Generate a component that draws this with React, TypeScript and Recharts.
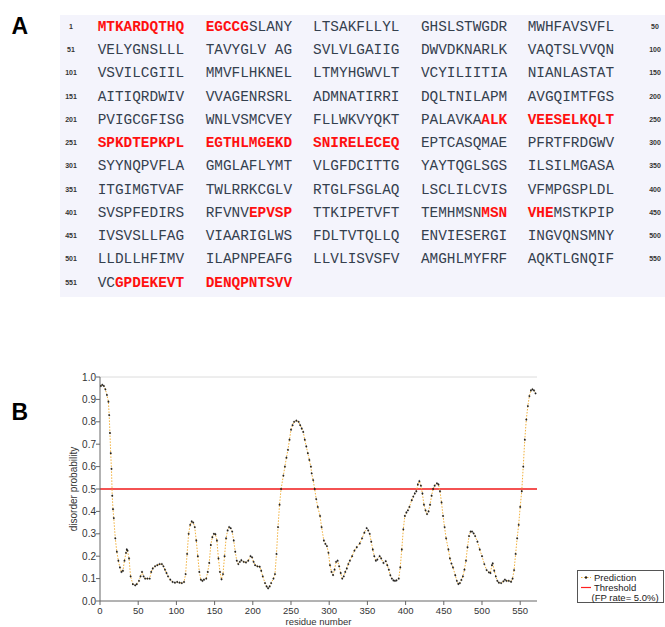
import React from 'react';
import { LineChart, Line, XAxis, YAxis, ReferenceLine, Legend, Label } from 'recharts';

// ---------- Panel A data ----------
const sequenceRows: string[][] = [
  ['MTKARDQTHQ', 'EGCCGSLANY', 'LTSAKFLLYL', 'GHSLSTWGDR', 'MWHFAVSVFL'],
  ['VELYGNSLLL', 'TAVYGLV AG', 'SVLVLGAIIG', 'DWVDKNARLK', 'VAQTSLVVQN'],
  ['VSVILCGIIL', 'MMVFLHKNEL', 'LTMYHGWVLT', 'VCYILIITIA', 'NIANLASTAT'],
  ['AITIQRDWIV', 'VVAGENRSRL', 'ADMNATIRRI', 'DQLTNILAPM', 'AVGQIMTFGS'],
  ['PVIGCGFISG', 'WNLVSMCVEY', 'FLLWKVYQKT', 'PALAVKAALK', 'VEESELKQLT'],
  ['SPKDTEPKPL', 'EGTHLMGEKD', 'SNIRELECEQ', 'EPTCASQMAE', 'PFRTFRDGWV'],
  ['SYYNQPVFLA', 'GMGLAFLYMT', 'VLGFDCITTG', 'YAYTQGLSGS', 'ILSILMGASA'],
  ['ITGIMGTVAF', 'TWLRRKCGLV', 'RTGLFSGLAQ', 'LSCLILCVIS', 'VFMPGSPLDL'],
  ['SVSPFEDIRS', 'RFVNVEPVSP', 'TTKIPETVFT', 'TEMHMSNMSN', 'VHEMSTKPIP'],
  ['IVSVSLLFAG', 'VIAARIGLWS', 'FDLTVTQLLQ', 'ENVIESERGI', 'INGVQNSMNY'],
  ['LLDLLHFIMV', 'ILAPNPEAFG', 'LLVLISVSFV', 'AMGHLMYFRF', 'AQKTLGNQIF'],
  ['VCGPDEKEVT', 'DENQPNTSVV'],
];
const rowStartLabels = [1, 51, 101, 151, 201, 251, 301, 351, 401, 451, 501, 551];
const rowEndLabels = [50, 100, 150, 200, 250, 300, 350, 400, 450, 500, 550];
const disorderedRanges: [number, number][] = [
  [1, 15],
  [238, 280],
  [416, 420],
  [438, 443],
  [553, 570],
];

// ---------- Panel B data ----------
const residues = [
  1, 3, 5, 7, 9, 11, 12, 13, 14, 15, 16, 17, 18, 20, 22, 24, 26, 28, 30, 32, 34, 35, 36, 38, 40, 43, 46, 48,
  51, 53, 55, 57, 59, 62, 65, 67, 69, 72, 75, 78, 81, 83, 85, 87, 89, 92, 95, 98, 101, 104, 107, 110, 112,
  114, 116, 118, 120, 122, 124, 126, 128, 130, 132, 134, 136, 139, 141, 143, 145, 147, 149, 151, 153, 155,
  157, 159, 161, 163, 165, 167, 169, 171, 173, 175, 177, 179, 181, 183, 185, 188, 191, 194, 197, 199, 201,
  203, 206, 209, 211, 213, 216, 218, 220, 222, 224, 227, 229, 231, 233, 235, 237, 240, 242, 244, 246, 248,
  250, 252, 254, 257, 260, 262, 264, 266, 268, 270, 272, 274, 276, 277, 279, 281, 283, 285, 288, 290, 293,
  295, 297, 299, 301, 303, 305, 307, 309, 311, 313, 315, 317, 319, 321, 323, 325, 327, 330, 333, 336, 340,
  343, 346, 349, 351, 353, 355, 357, 359, 361, 363, 366, 368, 371, 374, 376, 378, 380, 382, 384, 386, 388,
  391, 393, 395, 397, 399, 401, 403, 405, 408, 410, 412, 414, 416, 418, 420, 422, 424, 426, 428, 430, 432,
  434, 436, 438, 441, 443, 445, 447, 449, 451, 453, 456, 458, 460, 462, 465, 467, 469, 471, 473, 475, 477,
  479, 481, 483, 485, 487, 489, 491, 494, 497, 500, 503, 506, 509, 511, 513, 514, 516, 518, 520, 522, 525,
  528, 530, 532, 535, 538, 540, 542, 544, 546, 548, 550, 552, 554, 556, 558, 560, 562, 564, 566, 568, 570,
];
const disorderProbability = [
  0.96, 0.965, 0.96, 0.945, 0.92, 0.89, 0.83, 0.75, 0.66, 0.59, 0.47, 0.41, 0.37, 0.28, 0.22, 0.18, 0.15,
  0.13, 0.135, 0.18, 0.215, 0.23, 0.225, 0.19, 0.11, 0.075, 0.07, 0.075,
  0.09, 0.11, 0.13, 0.11, 0.1, 0.1, 0.1, 0.13, 0.145, 0.155, 0.16, 0.165, 0.165, 0.155, 0.14, 0.125, 0.11,
  0.095, 0.085, 0.082, 0.085, 0.082, 0.08, 0.085, 0.12,
  0.21, 0.3, 0.34, 0.355, 0.35, 0.33, 0.27, 0.2, 0.13, 0.095, 0.09, 0.095, 0.1, 0.13, 0.17, 0.25, 0.285,
  0.3, 0.298, 0.27, 0.19,
  0.13, 0.097, 0.12, 0.2, 0.28, 0.315, 0.33, 0.325, 0.31, 0.27, 0.22, 0.18, 0.165, 0.175, 0.182, 0.175,
  0.172, 0.18, 0.2, 0.195, 0.175,
  0.16, 0.155, 0.153, 0.135, 0.11, 0.08, 0.065, 0.057, 0.065, 0.08, 0.1, 0.12, 0.21, 0.33, 0.43, 0.5, 0.56,
  0.6, 0.64, 0.675, 0.72,
  0.765, 0.785, 0.8, 0.805, 0.8, 0.785, 0.77, 0.755, 0.72, 0.69, 0.66, 0.63, 0.6, 0.57, 0.54, 0.5, 0.455,
  0.42, 0.38, 0.33, 0.27,
  0.255, 0.245, 0.215, 0.16, 0.13, 0.116, 0.14, 0.175, 0.18, 0.155, 0.125, 0.1, 0.11, 0.13, 0.145, 0.165,
  0.18, 0.2, 0.225, 0.24, 0.257,
  0.28, 0.305, 0.325, 0.315, 0.3, 0.265, 0.23, 0.2, 0.18, 0.185, 0.2, 0.19, 0.17, 0.178, 0.16, 0.14, 0.115,
  0.1, 0.092, 0.09, 0.092,
  0.1, 0.15, 0.23, 0.32, 0.38, 0.395, 0.405, 0.42, 0.45, 0.466, 0.48, 0.49, 0.52, 0.535, 0.515, 0.48, 0.43,
  0.405, 0.388, 0.4, 0.43,
  0.47, 0.5, 0.515, 0.525, 0.52, 0.49, 0.44, 0.38, 0.33, 0.28, 0.23, 0.19, 0.167, 0.15, 0.115, 0.09, 0.076,
  0.08, 0.094, 0.11, 0.14,
  0.18, 0.24, 0.29, 0.31, 0.31, 0.302, 0.29, 0.265, 0.23, 0.2, 0.165, 0.138, 0.128, 0.125, 0.16, 0.168,
  0.135, 0.11, 0.09, 0.082, 0.08,
  0.088, 0.095, 0.09, 0.09, 0.086, 0.1, 0.138, 0.21, 0.28, 0.34, 0.42, 0.49, 0.6, 0.72, 0.81, 0.87, 0.915,
  0.94, 0.945, 0.94, 0.927,
];
const threshold = 0.5;
const xTicks = [0, 50, 100, 150, 200, 250, 300, 350, 400, 450, 500, 550];
const yTicks = [0, 0.1, 0.2, 0.3, 0.4, 0.5, 0.6, 0.7, 0.8, 0.9, 1.0];
const legendLabels = ['Prediction', 'Threshold', '(FP rate= 5.0%)'];

const chartData = residues.map((r, i) => ({ r, v: disorderProbability[i] }));

const SANS = "'Liberation Sans', Arial, Helvetica, sans-serif";
const MONO = "'Liberation Mono', 'Courier New', monospace";

const isDisordered = (res: number) => disorderedRanges.some(([a, b]) => res >= a && res <= b);

function SequencePanel() {
  const groupX = [97.7, 205.7, 313.1, 420.9, 527.7];
  const rowY0 = 31;
  const rowStep = 23.23;
  return (
    <svg width={665} height={300} style={{ position: 'absolute', left: 0, top: 0 }}>
      <rect x={60} y={15} width={605} height={282} fill="#f4f4fc" />
      <text x={11.5} y={33.5} fontFamily={SANS} fontWeight="bold" fontSize={23} fill="#000">A</text>
      {sequenceRows.map((row, i) => {
        const y = rowY0 + i * rowStep;
        return (
          <g key={i}>
            <text x={71} y={y - 2} textAnchor="middle" fontFamily={SANS} fontSize={7} fontWeight="bold" fill="#333">
              {rowStartLabels[i]}
            </text>
            {rowEndLabels[i] !== undefined && (
              <text x={655} y={y - 2} textAnchor="middle" fontFamily={SANS} fontSize={7} fontWeight="bold" fill="#333">
                {rowEndLabels[i]}
              </text>
            )}
            {row.map((grp, g) => {
              const segs: { t: string; red: boolean }[] = [];
              grp.split('').forEach((ch, k) => {
                const res = i * 50 + g * 10 + k + 1;
                const red = isDisordered(res);
                const last = segs[segs.length - 1];
                if (last && last.red === red) last.t += ch;
                else segs.push({ t: ch, red });
              });
              return (
                <text key={g} x={groupX[g]} y={y} fontFamily={MONO} fontSize={14.4} style={{ whiteSpace: 'pre' }}>
                  {segs.map((s, si) => (
                    <tspan key={si} fill={s.red ? '#ff1010' : '#34404e'} fontWeight={s.red ? 'bold' : 'normal'}>
                      {s.t}
                    </tspan>
                  ))}
                </text>
              );
            })}
          </g>
        );
      })}
    </svg>
  );
}

function LegendBox() {
  return (
    <div
      style={{
        width: 87,
        height: 33,
        border: '1px solid #555',
        boxSizing: 'border-box',
        background: '#fff',
        position: 'relative',
        fontFamily: SANS,
        fontSize: 9.5,
        color: '#222',
      }}
    >
      <svg width={87} height={33} style={{ position: 'absolute', left: 0, top: 0 }}>
        <line x1={3} x2={13} y1={6.5} y2={6.5} stroke="#f2b13c" strokeWidth={1} strokeDasharray="1.5 1.5" />
        <circle cx={8} cy={6.5} r={1.2} fill="#222" />
        <line x1={3} x2={13} y1={16.5} y2={16.5} stroke="#ff2020" strokeWidth={1.2} />
        <text x={16} y={10} fontFamily={SANS} fontSize={9.5} fill="#222">{legendLabels[0]}</text>
        <text x={16} y={20} fontFamily={SANS} fontSize={9.5} fill="#222">{legendLabels[1]}</text>
        <text x={13.5} y={30} fontFamily={SANS} fontSize={9.5} fill="#222">{legendLabels[2]}</text>
      </svg>
    </div>
  );
}

export default function App() {
  return (
    <div style={{ position: 'absolute', left: 0, top: 0, width: 665, height: 627, background: '#fff', overflow: 'hidden' }}>
      <SequencePanel />
      <svg width={40} height={40} style={{ position: 'absolute', left: 0, top: 390 }}>
        <text x={11.5} y={30} fontFamily={SANS} fontWeight="bold" fontSize={23} fill="#000">B</text>
      </svg>
      <div style={{ position: 'absolute', left: 0, top: 340 }}>
        <LineChart width={665} height={287} data={chartData} margin={{ top: 37, right: 128, bottom: 0, left: 0 }}>
          <XAxis
            dataKey="r"
            type="number"
            domain={[0, 572]}
            ticks={xTicks}
            height={26}
            tickSize={4}
            tickMargin={2}
            interval={0}
            stroke="#666"
            tick={{ fontFamily: SANS, fontSize: 9.5, fill: '#333' }}
            allowDataOverflow
          >
            <Label value="residue number" position="insideBottom" offset={2} style={{ fontFamily: SANS, fontSize: 9.5, fill: '#333' }} />
          </XAxis>
          <YAxis
            type="number"
            domain={[0, 1]}
            ticks={yTicks}
            width={100}
            tickSize={4}
            tickMargin={0}
            interval={0}
            stroke="#666"
            tickFormatter={(v: number) => v.toFixed(1)}
            tick={{ fontFamily: SANS, fontSize: 10, fill: '#333' }}
          >
            <Label value="disorder probability" angle={-90} position="center" dx={23} style={{ fontFamily: SANS, fontSize: 10, fill: '#333' }} />
          </YAxis>
          <ReferenceLine y={1} stroke="#dcdcdc" strokeWidth={1} />
          <ReferenceLine y={threshold} stroke="#f01818" strokeWidth={1.6} />
          <Line
            type="linear"
            dataKey="v"
            stroke="#f2b13c"
            strokeWidth={1}
            strokeDasharray="1.5 1.5"
            dot={{ r: 0.9, fill: '#222', stroke: '#222', strokeWidth: 0.3 }}
            activeDot={false}
            isAnimationActive={false}
          />
          <Legend
            layout="vertical"
            align="center"
            verticalAlign="middle"
            content={() => <LegendBox />}
            wrapperStyle={{ left: 577, top: 230, width: 87, height: 33 }}
          />
        </LineChart>
      </div>
    </div>
  );
}
